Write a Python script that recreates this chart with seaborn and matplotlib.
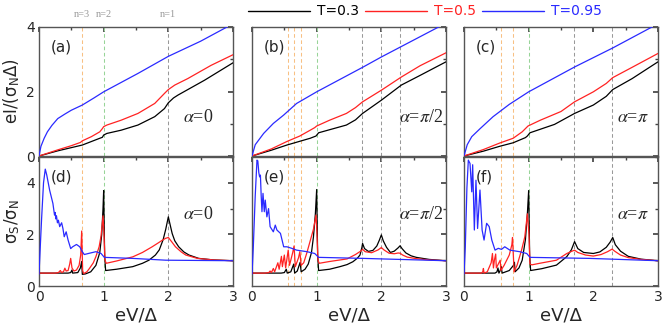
import pandas as pd
import seaborn as sns
from matplotlib import pyplot as plt
from matplotlib.lines import Line2D
from matplotlib.ticker import MultipleLocator

sns.set_theme(style="white")
plt.rcParams['font.family'] = ['DejaVu Sans']
plt.rcParams['mathtext.fontset'] = 'stix'

temps = ["T=0.3", "T=0.5", "T=0.95"]
colors = {"T=0.3": "#000000", "T=0.5": "#ff2222", "T=0.95": "#2a2aff"}

# current eI/(sigma_N Delta), panels a-c
iv_a_03 = [(0, 0), (0.29, 0.16), (0.67, 0.34), (0.94, 0.55), (0.98, 0.58), (1.0, 0.65), (1.05, 0.7),
           (1.27, 0.8), (1.53, 0.96), (1.79, 1.22), (1.94, 1.47), (2.0, 1.65), (2.08, 1.8), (2.15, 1.89),
           (2.56, 2.35), (3.0, 2.89)]
iv_a_05 = [(0, 0), (0.29, 0.19), (0.5, 0.32), (0.64, 0.42), (0.67, 0.47), (0.81, 0.6), (0.94, 0.75),
           (0.98, 0.85), (1.0, 0.91), (1.05, 0.96), (1.27, 1.11), (1.53, 1.32), (1.79, 1.63), (1.94, 1.94),
           (2.0, 2.06), (2.1, 2.2), (2.3, 2.4), (2.66, 2.81), (3.0, 3.14)]
iv_a_095 = [(0, 0), (0.03, 0.3), (0.08, 0.55), (0.13, 0.75), (0.2, 0.95), (0.29, 1.16), (0.4, 1.3),
            (0.5, 1.42), (0.67, 1.58), (0.85, 1.8), (1.0, 1.99), (1.53, 2.56), (2.0, 3.09), (2.5, 3.56),
            (3.0, 4.1)]

iv_b_03 = [(0, 0), (0.3, 0.18), (0.54, 0.34), (0.9, 0.55), (0.99, 0.62), (1.03, 0.72), (1.46, 0.96),
           (1.6, 1.12), (1.71, 1.32), (2.0, 1.73), (2.31, 2.2), (2.6, 2.5), (3.0, 2.92)]
iv_b_05 = [(0, 0), (0.3, 0.22), (0.54, 0.45), (0.74, 0.62), (0.9, 0.8), (0.97, 0.88), (1.0, 0.93),
           (1.2, 1.11), (1.46, 1.32), (1.6, 1.5), (1.71, 1.68), (2.0, 2.04), (2.31, 2.45), (2.6, 2.8),
           (3.0, 3.2)]
iv_b_095 = [(0, 0), (0.05, 0.35), (0.18, 0.7), (0.33, 1.01), (0.49, 1.27), (0.69, 1.63), (1.0, 1.99),
            (1.72, 2.76), (2.0, 3.07), (3.0, 4.12)]

iv_c_03 = [(0, 0), (0.3, 0.15), (0.55, 0.3), (0.76, 0.41), (0.95, 0.57), (0.98, 0.62), (1.02, 0.72),
           (1.4, 0.98), (1.71, 1.32), (2.0, 1.58), (2.2, 1.85), (2.3, 2.06), (2.6, 2.4), (3.0, 2.92)]
iv_c_05 = [(0, 0), (0.3, 0.2), (0.55, 0.4), (0.76, 0.55), (0.9, 0.75), (0.99, 0.93), (1.18, 1.11),
           (1.5, 1.38), (1.71, 1.68), (2.0, 1.99), (2.2, 2.25), (2.3, 2.43), (2.6, 2.75), (3.0, 3.18)]
iv_c_095 = [(0, 0), (0.05, 0.35), (0.12, 0.6), (0.25, 0.85), (0.45, 1.22), (0.7, 1.6), (1.0, 1.99),
            (1.71, 2.76), (2.3, 3.35), (3.0, 4.1)]

# conductance sigma_S/sigma_N, panels d-f
g_d_03 = [(0, 0.5), (0.45, 0.5), (0.49, 0.52), (0.51, 0.62), (0.52, 0.5), (0.6, 0.52), (0.64, 0.7),
          (0.66, 0.95), (0.67, 0.45), (0.72, 0.47), (0.8, 0.55), (0.88, 0.8), (0.94, 1.3), (0.97, 2.0),
          (0.99, 3.0), (1.0, 3.7), (1.015, 1.2), (1.03, 0.6), (1.2, 0.65), (1.45, 0.75), (1.6, 0.88),
          (1.7, 1.0), (1.8, 1.2), (1.86, 1.4), (1.92, 1.8), (1.96, 2.2), (2.0, 2.68), (2.03, 2.35),
          (2.06, 2.03), (2.1, 1.75), (2.16, 1.52), (2.24, 1.32), (2.32, 1.2), (2.47, 1.07), (2.7, 1.01),
          (3.0, 0.98)]
g_d_05 = [(0, 0.5), (0.25, 0.5), (0.3, 0.52), (0.33, 0.6), (0.35, 0.52), (0.38, 0.56), (0.4, 0.69),
          (0.42, 0.58), (0.45, 0.6), (0.475, 0.85), (0.49, 1.07), (0.51, 0.7), (0.54, 0.58), (0.58, 0.62),
          (0.62, 0.8), (0.645, 1.2), (0.66, 2.13), (0.675, 0.6), (0.69, 0.48), (0.74, 0.55), (0.78, 0.68),
          (0.84, 0.9), (0.88, 1.14), (0.93, 1.52), (0.96, 1.95), (0.99, 2.72), (1.005, 2.0), (1.02, 1.0),
          (1.04, 0.88), (1.2, 0.97), (1.45, 1.13), (1.6, 1.3), (1.75, 1.52), (1.85, 1.68), (1.91, 1.78),
          (1.96, 1.85), (2.0, 1.88), (2.05, 1.72), (2.11, 1.52), (2.2, 1.32), (2.27, 1.2), (2.45, 1.07),
          (2.7, 1.01), (3.0, 0.98)]
g_d_095 = [(0, 0.46), (0.01, 1.0), (0.04, 2.6), (0.07, 4.0), (0.097, 4.53), (0.12, 4.3), (0.164, 3.72),
           (0.215, 3.2), (0.24, 2.75), (0.25, 2.85), (0.26, 2.6), (0.27, 2.72), (0.285, 2.45), (0.3, 2.55),
           (0.32, 2.3), (0.35, 2.45), (0.37, 2.23), (0.39, 1.91), (0.42, 2.1), (0.45, 1.78), (0.49, 1.45),
           (0.52, 1.52), (0.58, 1.61), (0.63, 1.52), (0.67, 1.33), (0.7, 1.22), (0.78, 1.27), (0.88, 1.33),
           (0.96, 1.26), (1.01, 1.11), (1.45, 1.07), (1.96, 1.0), (3.0, 0.98)]

g_e_03 = [(0, 0.5), (0.45, 0.5), (0.5, 0.52), (0.53, 0.65), (0.545, 0.5), (0.6, 0.55), (0.645, 0.85),
          (0.66, 0.5), (0.7, 0.58), (0.745, 0.92), (0.76, 0.55), (0.82, 0.65), (0.87, 0.85), (0.92, 1.3),
          (0.95, 1.9), (0.98, 2.8), (1.0, 3.74), (1.015, 1.2), (1.03, 0.6), (1.2, 0.65), (1.36, 0.75),
          (1.47, 0.83), (1.56, 0.94), (1.63, 1.08), (1.67, 1.2), (1.7, 1.5), (1.71, 1.65), (1.74, 1.45),
          (1.8, 1.34), (1.87, 1.38), (1.93, 1.55), (1.97, 1.78), (2.0, 1.98), (2.03, 1.75), (2.08, 1.5),
          (2.14, 1.3), (2.2, 1.35), (2.26, 1.48), (2.29, 1.56), (2.32, 1.45), (2.38, 1.28), (2.46, 1.17),
          (2.54, 1.11), (2.74, 1.03), (3.0, 0.98)]
g_e_05 = [(0, 0.5), (0.2, 0.5), (0.26, 0.52), (0.28, 0.58), (0.3, 0.52), (0.33, 0.68), (0.35, 0.55),
          (0.4, 0.9), (0.42, 0.65), (0.455, 1.15), (0.47, 0.75), (0.5, 1.2), (0.52, 0.7), (0.56, 1.39),
          (0.58, 0.8), (0.63, 1.3), (0.65, 1.55), (0.67, 0.75), (0.72, 1.1), (0.74, 1.33), (0.76, 0.8),
          (0.8, 0.9), (0.85, 1.3), (0.9, 1.75), (0.95, 2.2), (0.99, 2.75), (1.005, 2.0), (1.02, 1.0),
          (1.04, 0.88), (1.2, 0.95), (1.47, 1.05), (1.6, 1.22), (1.68, 1.35), (1.71, 1.42), (1.75, 1.33),
          (1.85, 1.29), (1.95, 1.4), (2.0, 1.49), (2.04, 1.4), (2.12, 1.27), (2.2, 1.25), (2.26, 1.28),
          (2.29, 1.27), (2.33, 1.2), (2.4, 1.12), (2.54, 1.06), (2.74, 1.01), (3.0, 0.98)]
g_e_095 = [(0, 0.46), (0.02, 1.5), (0.05, 3.5), (0.077, 4.88), (0.09, 4.85), (0.105, 4.4), (0.118, 4.23),
           (0.13, 4.3), (0.142, 3.5), (0.154, 2.88), (0.17, 3.59), (0.19, 2.88), (0.205, 3.33), (0.23, 2.68),
           (0.256, 3.0), (0.28, 2.3), (0.33, 2.1), (0.36, 2.36), (0.385, 2.17), (0.44, 2.04), (0.49, 1.52),
           (0.54, 1.52), (0.615, 1.46), (0.69, 1.39), (0.85, 1.33), (0.97, 1.26), (1.03, 1.11), (1.72, 1.07),
           (3.0, 0.98)]

g_f_03 = [(0, 0.5), (0.48, 0.5), (0.51, 0.55), (0.525, 0.7), (0.54, 0.5), (0.56, 0.6), (0.575, 0.75),
          (0.59, 0.5), (0.7, 0.6), (0.765, 0.8), (0.78, 0.92), (0.79, 0.55), (0.85, 0.7), (0.9, 1.0),
          (0.95, 1.8), (0.98, 2.8), (1.0, 3.7), (1.015, 1.2), (1.03, 0.6), (1.2, 0.67), (1.43, 0.81),
          (1.59, 1.14), (1.66, 1.4), (1.71, 1.72), (1.76, 1.45), (1.85, 1.3), (2.0, 1.26), (2.1, 1.32),
          (2.2, 1.5), (2.26, 1.7), (2.3, 1.88), (2.34, 1.6), (2.42, 1.35), (2.54, 1.15), (2.74, 1.04),
          (3.0, 0.98)]
g_f_05 = [(0, 0.5), (0.27, 0.5), (0.29, 0.55), (0.3, 0.68), (0.31, 0.5), (0.36, 0.55), (0.42, 0.9),
          (0.44, 1.26), (0.455, 0.7), (0.47, 1.0), (0.49, 1.24), (0.5, 0.7), (0.53, 0.85), (0.56, 1.0),
          (0.57, 0.6), (0.62, 0.8), (0.7, 1.2), (0.74, 1.6), (0.75, 1.88), (0.775, 0.55), (0.82, 0.8),
          (0.89, 1.39), (0.94, 1.9), (0.98, 2.8), (1.005, 2.0), (1.02, 0.85), (1.05, 0.82), (1.17, 0.88),
          (1.43, 1.0), (1.59, 1.26), (1.68, 1.36), (1.71, 1.39), (1.76, 1.3), (1.88, 1.2), (2.0, 1.16),
          (2.12, 1.22), (2.22, 1.33), (2.29, 1.43), (2.33, 1.35), (2.42, 1.2), (2.54, 1.1), (2.74, 1.03),
          (3.0, 0.98)]
g_f_095 = [(0, 0.46), (0.02, 1.5), (0.045, 3.8), (0.067, 4.88), (0.093, 4.75), (0.12, 3.65), (0.134, 4.7),
           (0.16, 2.17), (0.185, 4.1), (0.21, 2.23), (0.247, 3.72), (0.28, 2.17), (0.31, 1.78), (0.35, 2.43),
           (0.39, 2.3), (0.43, 1.78), (0.48, 1.39), (0.53, 1.46), (0.58, 1.42), (0.63, 1.52), (0.71, 1.39),
           (0.86, 1.33), (0.97, 1.26), (1.02, 1.11), (1.94, 1.07), (3.0, 0.98)]

panel_curves = {
    "a": [iv_a_03, iv_a_05, iv_a_095], "b": [iv_b_03, iv_b_05, iv_b_095], "c": [iv_c_03, iv_c_05, iv_c_095],
    "d": [g_d_03, g_d_05, g_d_095], "e": [g_e_03, g_e_05, g_e_095], "f": [g_f_03, g_f_05, g_f_095],
}

# dashed guide lines per column: (position, colour)
orange, green, grey = "#f8c083", "#98d498", "#999999"
guides_col = [
    [(2 / 3, orange), (1.0, green), (2.0, grey)],
    [(0.555, orange), (0.65, orange), (0.75, orange), (1.0, green), (1.707, grey), (2.0, grey), (2.293, grey)],
    [(0.565, orange), (0.757, orange), (1.0, green), (1.707, grey), (2.293, grey)],
]
alpha_labels = ["$\\alpha$=0", "$\\alpha$=$\\pi$/2", "$\\alpha$=$\\pi$"]

rows = []
for panel, curves in panel_curves.items():
    for t, pts in zip(temps, curves):
        for x, y in pts:
            rows.append({"panel": panel, "T": t, "x": x, "y": y})
df = pd.DataFrame(rows)

fig = plt.figure(figsize=(6.64, 3.25), dpi=100)
lefts = [39 / 664, 252 / 664, 464 / 664]
w = 194 / 664
h = 129 / 325
axes = {}
for c, key in enumerate("abc"):
    axes[key] = fig.add_axes([lefts[c], 1 - 156 / 325, w, h])
for c, key in enumerate("def"):
    axes[key] = fig.add_axes([lefts[c], 1 - 286 / 325, w, h])

for c, (top, bot) in enumerate([("a", "d"), ("b", "e"), ("c", "f")]):
    for key in (top, bot):
        ax = axes[key]
        for xv, col in guides_col[c]:
            ax.axvline(xv, color=col, lw=0.75, ls=(0, (3.5, 2.5)), zorder=1)
        sub = df[df["panel"] == key]
        sns.lineplot(data=sub, x="x", y="y", hue="T", palette=colors, sort=False,
                     estimator=None, units="T", legend=False, lw=0.9, ax=ax, zorder=3)
        ax.set_xlim(0, 3)
        ax.xaxis.set_major_locator(MultipleLocator(1))
        ax.xaxis.set_minor_locator(MultipleLocator(0.5))
        ax.yaxis.set_major_locator(MultipleLocator(2))
        ax.yaxis.set_minor_locator(MultipleLocator(1))
        ax.tick_params(which="both", direction="in", top=True, right=True, labelsize=10,
                       color="#444444", pad=3)
        ax.tick_params(which="major", length=3.5)
        ax.tick_params(which="minor", length=2)
        for sp in ax.spines.values():
            sp.set_color("#555555")
            sp.set_linewidth(1.0)
        ax.set_xlabel("")
        ax.set_ylabel("")
        ax.text(0.06, 0.9, "(" + key + ")", transform=ax.transAxes, fontsize=11, va="top")
    axes[top].set_ylim(0, 4)
    axes[bot].set_ylim(0, 5)
    axes[top].tick_params(labelbottom=False)
    axes[bot].set_xlabel("eV/Δ", fontsize=13, labelpad=2)
    if c > 0:
        axes[top].tick_params(labelleft=False)
        axes[bot].tick_params(labelleft=False)

# alpha labels
txt_kw = dict(fontsize=13, family="Liberation Serif", ha="right")
axes["a"].text(0.9, 0.26, alpha_labels[0], transform=axes["a"].transAxes, **txt_kw)
axes["d"].text(0.9, 0.52, alpha_labels[0], transform=axes["d"].transAxes, **txt_kw)
axes["b"].text(0.985, 0.26, alpha_labels[1], transform=axes["b"].transAxes, **txt_kw)
axes["e"].text(0.985, 0.52, alpha_labels[1], transform=axes["e"].transAxes, **txt_kw)
axes["c"].text(0.95, 0.26, alpha_labels[2], transform=axes["c"].transAxes, **txt_kw)
axes["f"].text(0.95, 0.52, alpha_labels[2], transform=axes["f"].transAxes, **txt_kw)

axes["a"].set_ylabel("eI/(σ$_\\mathregular{N}$Δ)", fontsize=12, labelpad=3)
axes["d"].set_ylabel("σ$_\\mathregular{S}$/σ$_\\mathregular{N}$", fontsize=12, labelpad=3)

# n labels above panel a
for xv, lab in [(2 / 3, "n=3"), (1.0, "n=2"), (2.0, "n=1")]:
    axes["a"].text(xv, 1.06, lab, transform=axes["a"].get_xaxis_transform(), ha="center",
                   va="bottom", fontsize=7.5, color="#999999", family="Liberation Serif")

handles = [Line2D([], [], color=colors[t], lw=1.0) for t in temps]
fig.legend(handles, temps, loc="upper center", bbox_to_anchor=(0.64, 1.025), ncol=3, frameon=False,
           handlelength=4.4, columnspacing=0.5, handletextpad=0.5, fontsize=10,
           labelcolor="linecolor")

fig.savefig("out.png", dpi=100)
